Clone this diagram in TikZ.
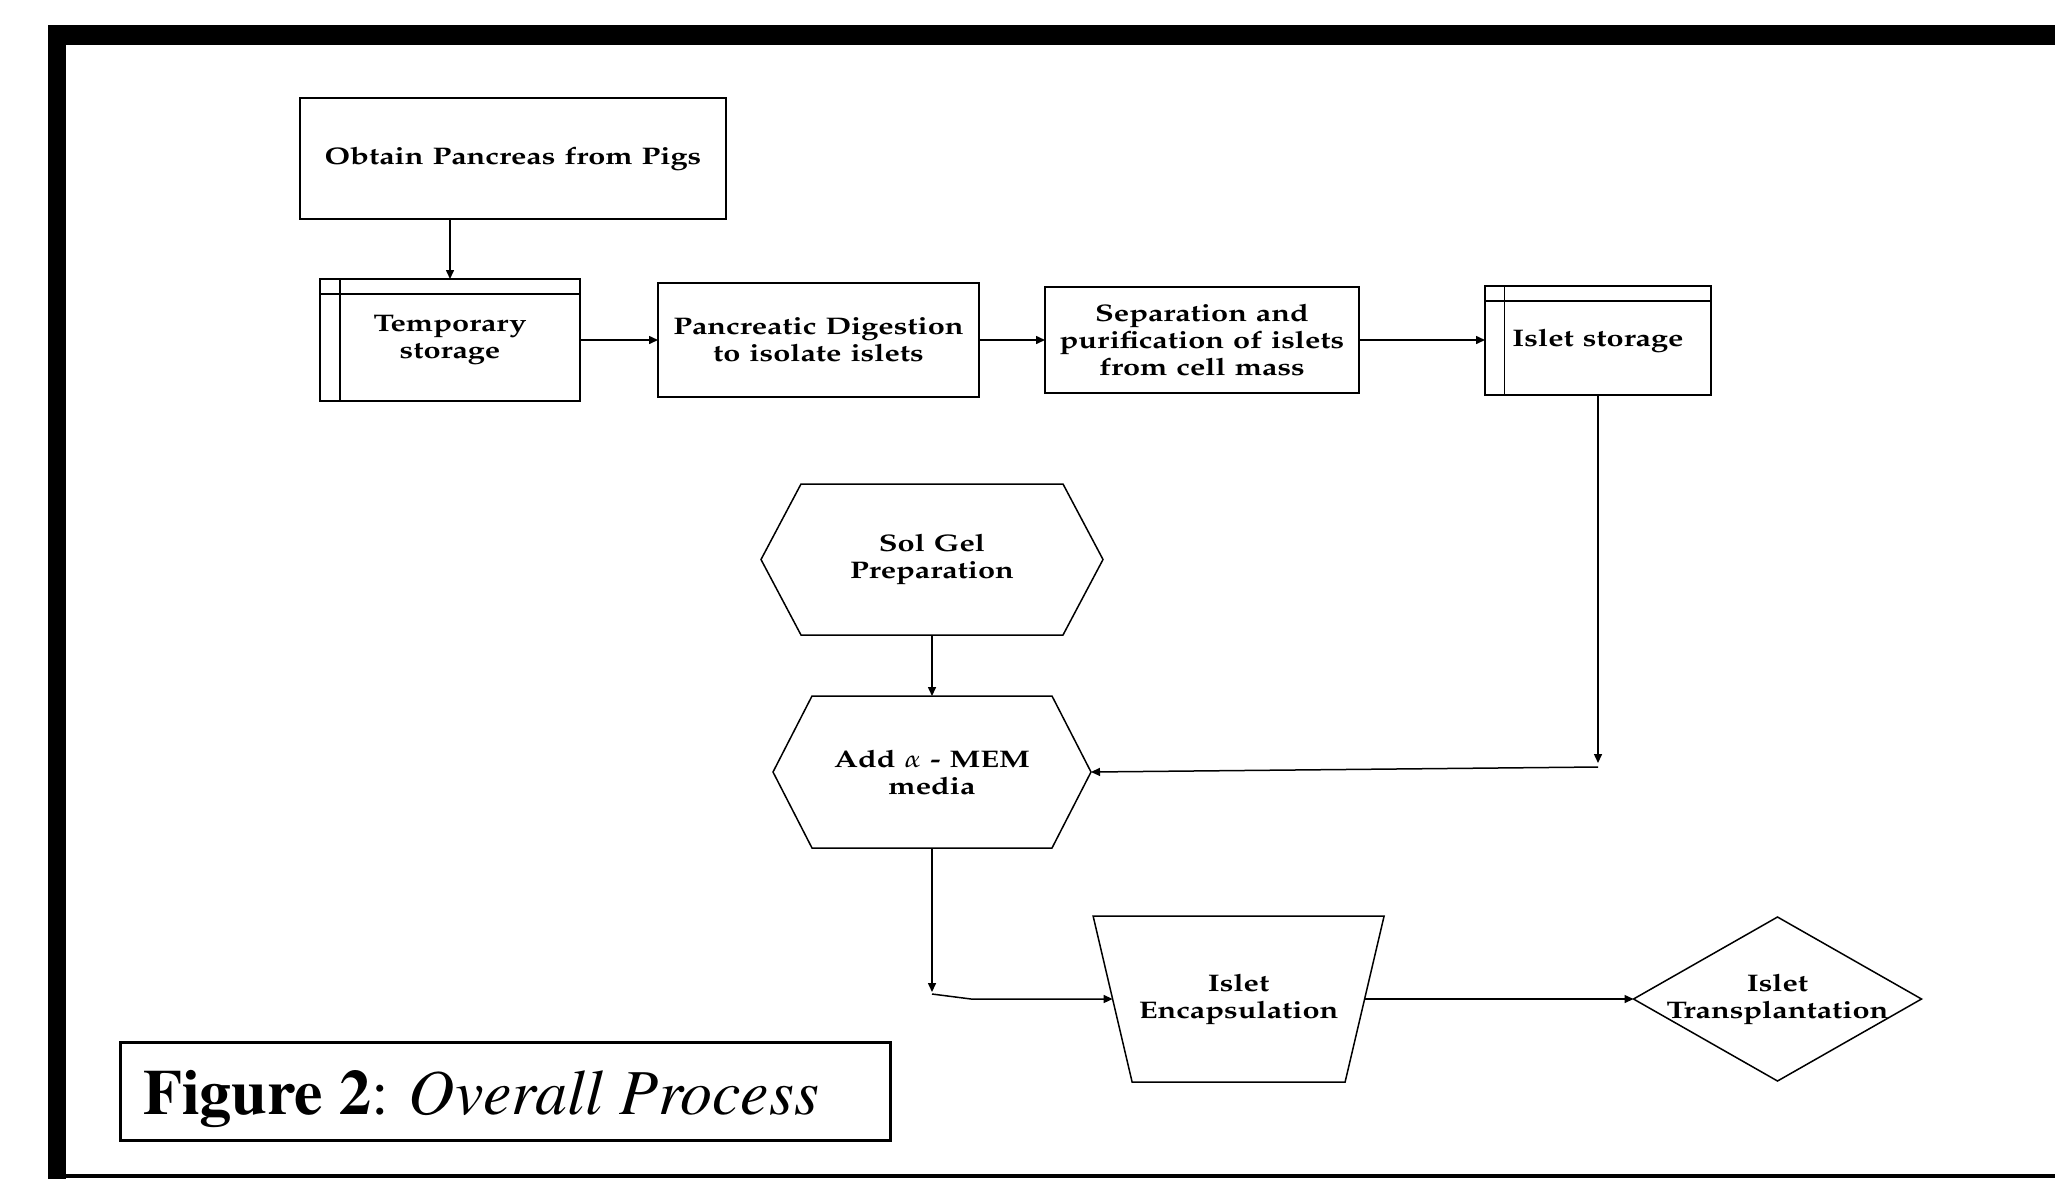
\documentclass[tikz,border=0pt]{standalone}
\usepackage[T1]{fontenc}
\usepackage{mathpazo}
\usepackage{graphicx}
\usetikzlibrary{arrows.meta}
\newcommand{\sx}[1]{\scalebox{1.28}[1]{#1}}
\begin{document}
\begin{tikzpicture}[x=0.5pt,y=-0.5pt,
  every node/.style={inner sep=0pt, outer sep=0pt, align=center,
    font=\fontfamily{pplx}\fontsize{12}{13.5}\selectfont\bfseries},
  rbox/.style={draw, line width=0.75pt},
  ghost/.style={draw=none},
  arr/.style={line width=0.75pt, -{Triangle[length=4.5pt,width=4pt]}},
  shapeline/.style={line width=0.75pt}
]
\useasboundingbox (0,0) rectangle (2055,1179);
% frame
\fill[black] (48,25) rectangle (2055,45);
\fill[black] (48,25) rectangle (66,1179);
\fill[black] (48,1174) rectangle (2055,1177.5);

% nodes
\node[rbox, minimum width=213pt, minimum height=60.5pt] (obtain) at (513,158.5) {\sx{Obtain Pancreas from Pigs}};
\node[rbox, minimum width=130pt, minimum height=61pt] (temp) at (450,340) {\sx{Temporary}\\\sx{storage}};
\draw[shapeline] ([xshift=10pt]temp.north west) -- ([xshift=10pt]temp.south west);
\draw[shapeline] ([yshift=-7.5pt]temp.north west) -- ([yshift=-7.5pt]temp.north east);
\node[rbox, minimum width=160.5pt, minimum height=57pt] (dig) at (818.5,340) {\sx{Pancreatic Digestion}\\\sx{to isolate islets}};
\node[rbox, minimum width=157pt, minimum height=53pt] (sep) at (1202,340) {\sx{Separation and}\\\sx{purification of islets}\\\sx{from cell mass}};
\node[rbox, minimum width=113pt, minimum height=54.5pt] (islet) at (1598,340.5) {\sx{Islet storage}};
\draw[shapeline] ([xshift=9.75pt]islet.north west) -- ([xshift=9.75pt]islet.south west);
\draw[shapeline] ([yshift=-7.5pt]islet.north west) -- ([yshift=-7.5pt]islet.north east);

\node[ghost, minimum width=171pt, minimum height=75.5pt] (sol) at (932,559.5) {\sx{Sol Gel}\\\sx{Preparation}};
\draw[shapeline] (sol.west) -- ([xshift=20pt]sol.north west) -- ([xshift=-20pt]sol.north east) -- (sol.east) -- ([xshift=-20pt]sol.south east) -- ([xshift=20pt]sol.south west) -- cycle;

\node[ghost, minimum width=159pt, minimum height=76pt] (add) at (932,772) {\sx{Add $\alpha$ - MEM}\\\sx{media}};
\draw[shapeline] (add.west) -- ([xshift=19.5pt]add.north west) -- ([xshift=-19.5pt]add.north east) -- (add.east) -- ([xshift=-19.5pt]add.south east) -- ([xshift=19.5pt]add.south west) -- cycle;

\node[ghost, minimum width=126pt, minimum height=83pt] (enc) at (1238.6,999) {\sx{Islet}\\\sx{Encapsulation}};
\draw[shapeline] ([xshift=-9.75pt]enc.north west) -- ([xshift=9.75pt]enc.north east) -- ([xshift=-9.75pt]enc.south east) -- ([xshift=9.75pt]enc.south west) -- cycle;

\node[ghost, minimum width=144pt, minimum height=82pt] (trans) at (1777.5,999) {\sx{Islet}\\\sx{Transplantation}};
\draw[shapeline] (trans.west) -- (trans.north) -- (trans.east) -- (trans.south) -- cycle;

% caption
\node[draw, line width=1.5pt, minimum width=385pt, minimum height=49pt] (capbox) at (505,1091) {};
\node[anchor=base west, font=\fontfamily{ptm}\fontsize{32}{36}\selectfont] (cap) at (143,1114) {{\bfseries Figure 2}: \itshape Overall Process};

% connector coordinates
\coordinate (k1) at (1598,763);
\coordinate (k2) at (1598,767);
\coordinate (k3) at (932,992);
\coordinate (k4) at (932,994);
\coordinate (k5) at (971,999);

% connectors
\draw[arr] (obtain.south -| temp.north) -- (temp.north);
\draw[arr] (temp.east) -- (dig.west);
\draw[arr] (dig.east) -- (sep.west);
\draw[arr] (sep.east) -- (sep.east -| islet.west);
\draw[arr] (islet.south) -- (k1);
\draw[arr] (k2) -- (add.east);
\draw[arr] (sol.south) -- (add.north);
\draw[arr] (add.south) -- (k3);
\draw[arr] (k4) -- (k5) -- (enc.west);
\draw[arr] (enc.east) -- (trans.west);
\end{tikzpicture}
\end{document}
